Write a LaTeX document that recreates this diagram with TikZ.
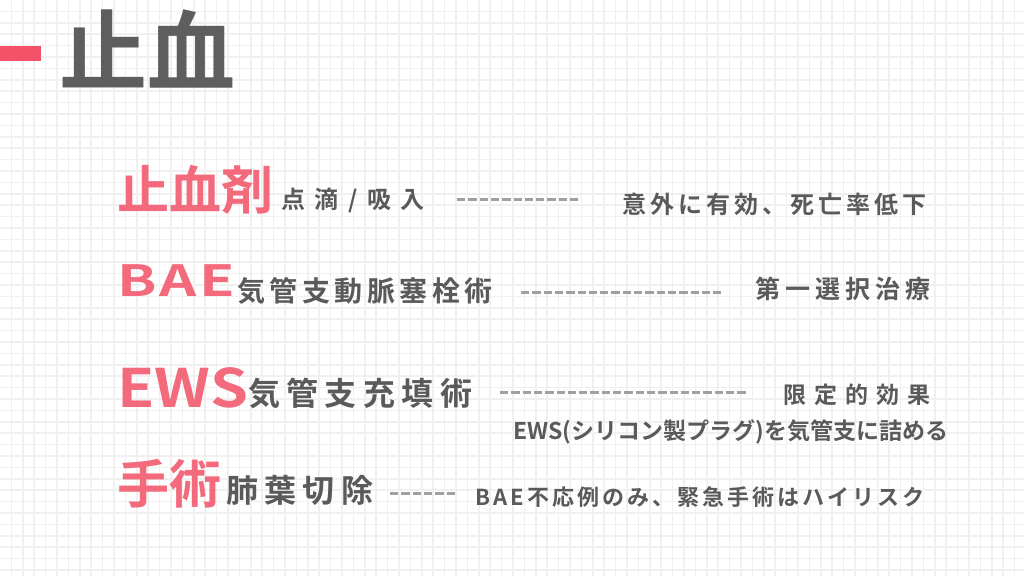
\documentclass[tikz,border=0pt]{standalone}
\usepackage{fontspec}
\newfontfamily\jpb{Noto Sans CJK JP Bold}
\definecolor{gridc}{RGB}{240,240,240}
\definecolor{pinkt}{RGB}{243,106,124}
\definecolor{pinkbar}{RGB}{244,82,104}
\definecolor{grayt}{RGB}{90,90,90}
\definecolor{titlec}{RGB}{94,94,94}
\definecolor{dashc}{RGB}{160,160,160}
\newcommand{\fsz}[2]{\fontsize{#1}{#1}\selectfont\addfontfeature{LetterSpace=#2}}
\newcommand{\fst}[3]{\fontsize{#1}{#1}\selectfont\addfontfeature{FakeStretch=#2,LetterSpace=#3}}
\tikzset{
  lbl/.style={inner sep=0pt, anchor=west, font=\jpb},
  big/.style={lbl, text=pinkt},
  sub/.style={lbl, text=grayt},
  dashline/.style={draw=dashc, line width=3pt, dash pattern=on 8.3pt off 3pt}
}
\begin{document}
\begin{tikzpicture}[x=1pt,y=-1pt]
\useasboundingbox (0,0) rectangle (1024,576);
\fill[white] (0,0) rectangle (1024,576);
\foreach \i in {1,...,89} \draw[gridc, line width=1.5pt] (\i*11.4,0) -- (\i*11.4,576);
\foreach \j in {1,...,50} \draw[gridc, line width=1.5pt] (0,\j*11.4) -- (1024,\j*11.4);
% title
\fill[pinkbar] (0,46) rectangle (41,61);
\node[lbl, text=titlec] (title) at (59,49) {\fsz{88}{0}止血};
% row 1
\node[big] (r1a) at (117,189.5) {\fsz{52}{0}止血剤};
\node[sub] (r1b) at (281,200) {\fsz{24}{40}点滴/吸入};
\node[sub] (r1c) at (622,204) {\fsz{24}{17}意外に有効、死亡率低下};
\coordinate (d1s) at (457,199); \coordinate (d1e) at (580,199);
\draw[dashline] (d1s) -- (d1e);
% row 2
\node[big] (r2a) at (117,281) {\fst{43}{1.35}{7}BAE};
\node[sub] (r2b) at (237,290.5) {\fsz{28}{16}気管支動脈塞栓術};
\node[sub] (r2c) at (755,288.5) {\fsz{25}{20}第一選択治療};
\coordinate (d2s) at (521,292); \coordinate (d2e) at (722,292);
\draw[dashline] (d2s) -- (d2e);
% row 3
\node[big] (r3a) at (117,387.5) {\fst{53}{1.15}{0}EWS};
\node[sub] (r3b) at (248,393) {\fsz{32}{20}気管支充填術};
\node[sub] (r3c) at (783,395) {\fsz{23}{35}限定的効果};
\node[sub] (r3d) at (513,431.5) {\fsz{23}{0}EWS(シリコン製プラグ)を気管支に詰める};
\coordinate (d3s) at (500,392); \coordinate (d3e) at (748,392);
\draw[dashline] (d3s) -- (d3e);
% row 4
\node[big] (r4a) at (117,483.5) {\fsz{52}{0}手術};
\node[sub] (r4b) at (226,490) {\fsz{32}{20}肺葉切除};
\node[sub] (r4c) at (475,497) {\fsz{22}{14}BAE不応例のみ、緊急手術はハイリスク};
\coordinate (d4s) at (390,493); \coordinate (d4e) at (455,493);
\draw[dashline] (d4s) -- (d4e);
\end{tikzpicture}
\end{document}
